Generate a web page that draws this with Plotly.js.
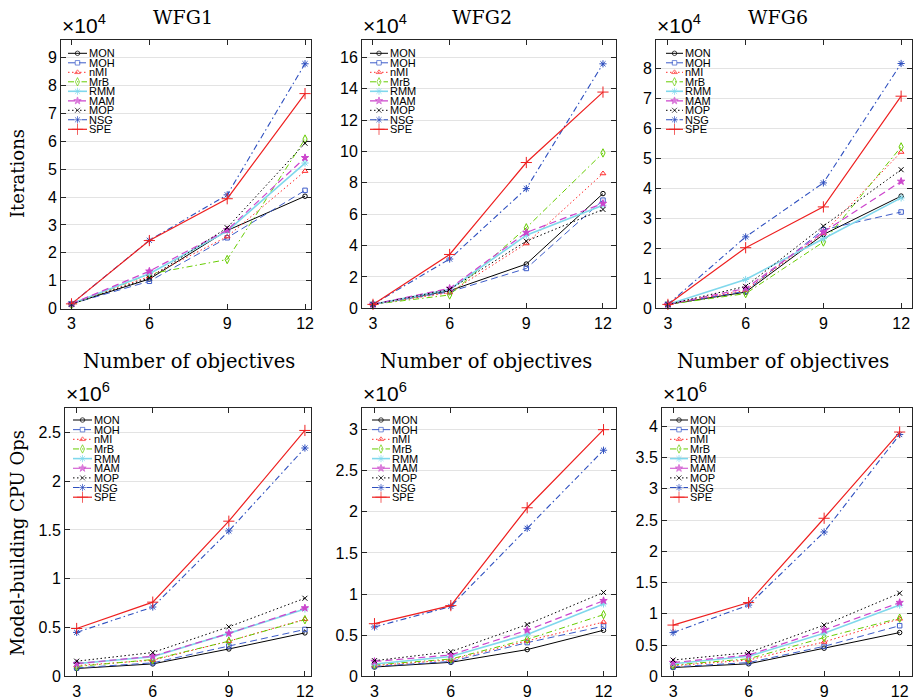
<!DOCTYPE html>
<html><head><meta charset="utf-8">
<script src="https://cdn.plot.ly/plotly-3.0.1.min.js"></script>
<style>html,body{margin:0;padding:0;background:#fff}#chart{width:914px;height:699px}</style>
</head><body><div id="chart"></div>
<script>
// ---------------- DATA ----------------
const objectives = [3, 6, 9, 12];
const methods = ['MON', 'MOH', 'nMI', 'MrB', 'RMM', 'MAM', 'MOP', 'NSG', 'SPE'];

// Iterations (x10^4), rows in the order of `methods`
const wfg1Iterations = [
  [0.17, 1.06, 2.80, 4.03],
  [0.17, 0.98, 2.54, 4.24],
  [0.17, 1.15, 2.58, 4.93],
  [0.14, 1.24, 1.76, 6.08],
  [0.17, 1.25, 2.78, 5.22],
  [0.17, 1.34, 2.82, 5.41],
  [0.16, 1.10, 2.90, 5.93],
  [0.17, 2.45, 4.08, 8.78],
  [0.17, 2.44, 3.94, 7.71]
];
const wfg2Iterations = [
  [0.25, 1.12, 2.82, 7.31],
  [0.25, 1.05, 2.54, 6.89],
  [0.25, 1.00, 4.13, 8.59],
  [0.25, 0.85, 5.13, 9.90],
  [0.25, 1.20, 4.66, 6.57],
  [0.25, 1.27, 4.83, 6.68],
  [0.25, 1.20, 4.28, 6.30],
  [0.25, 3.14, 7.63, 15.58],
  [0.25, 3.43, 9.29, 13.78]
];
const wfg6Iterations = [
  [0.13, 0.54, 2.46, 3.74],
  [0.13, 0.57, 2.62, 3.21],
  [0.13, 0.60, 2.50, 5.21],
  [0.13, 0.49, 2.21, 5.38],
  [0.13, 0.96, 2.32, 3.68],
  [0.13, 0.66, 2.54, 4.23],
  [0.13, 0.73, 2.74, 4.62],
  [0.13, 2.38, 4.18, 8.16],
  [0.13, 2.02, 3.38, 7.07]
];
// Model-building CPU Ops (x10^6)
const wfg1CpuOps = [
  [0.080, 0.127, 0.28, 0.445],
  [0.086, 0.138, 0.31, 0.48],
  [0.110, 0.165, 0.36, 0.585],
  [0.100, 0.172, 0.36, 0.58],
  [0.130, 0.200, 0.44, 0.69],
  [0.130, 0.206, 0.44, 0.70],
  [0.155, 0.244, 0.507, 0.80],
  [0.450, 0.710, 1.49, 2.34],
  [0.490, 0.760, 1.59, 2.52]
];
const wfg2CpuOps = [
  [0.113, 0.17, 0.325, 0.56],
  [0.120, 0.18, 0.41, 0.61],
  [0.130, 0.20, 0.43, 0.66],
  [0.140, 0.21, 0.45, 0.75],
  [0.150, 0.24, 0.51, 0.88],
  [0.180, 0.26, 0.56, 0.92],
  [0.190, 0.30, 0.63, 1.02],
  [0.600, 0.85, 1.80, 2.75],
  [0.640, 0.86, 2.05, 3.00]
];
const wfg6CpuOps = [
  [0.14, 0.20, 0.45, 0.70],
  [0.15, 0.22, 0.48, 0.81],
  [0.17, 0.26, 0.55, 0.92],
  [0.18, 0.28, 0.62, 0.93],
  [0.20, 0.32, 0.69, 1.14],
  [0.22, 0.34, 0.74, 1.18],
  [0.26, 0.38, 0.82, 1.33],
  [0.70, 1.14, 2.31, 3.87],
  [0.82, 1.18, 2.53, 3.91]
];
const problemTitles = ['WFG1', 'WFG2', 'WFG6'];

// ---------------- STYLE / LAYOUT ----------------
const W = 914, H = 699;
const SANS = 'Liberation Sans, Arial, sans-serif';
const SERIF = 'DejaVu Serif, serif';
const styles = {
  MON: {color: '#000000', dash: 'solid', symbol: 'circle-open', size: 4.5, width: 1},
  MOH: {color: '#3d5cc9', dash: '7px,4px', symbol: 'square-open', size: 4.5, width: 1},
  nMI: {color: '#ff2a2a', dash: '1.5px,2.5px', symbol: 'triangle-up-open', size: 5, width: 1},
  MrB: {color: '#66cc00', dash: '6px,3px,1.5px,3px', symbol: 'diamond-tall-open', size: 6, width: 1},
  RMM: {color: '#80d8ec', dash: 'solid', symbol: 'asterisk-open', size: 6, width: 1.6},
  MAM: {color: '#cc44cc', dash: '7px,4px', symbol: 'star', size: 5.5, width: 1.2},
  MOP: {color: '#000000', dash: '1.5px,2.5px', symbol: 'x-thin-open', size: 5, width: 1},
  NSG: {color: '#2e4fbf', dash: '6px,3px,1.5px,3px', symbol: 'asterisk-open', size: 6, width: 1.1},
  SPE: {color: '#ee2020', dash: 'solid', symbol: 'cross-thin-open', size: 8, width: 1.2}
};

const panels = [
  {data: wfg1Iterations, box: [61, 311, 39.5, 308.6], xr: [2.595, 12.23], yr: [0, 9.65], dtick: 1, exp: '4', leg: [68, 87, 53.3, 9.5]},
  {data: wfg2Iterations, box: [362, 616, 39.5, 308.3], xr: [2.57, 12.51], yr: [0, 17.13], dtick: 2, exp: '4', leg: [370, 388, 53.3, 9.5]},
  {data: wfg6Iterations, box: [656, 912, 39.5, 308.3], xr: [2.54, 12.42], yr: [0, 8.96], dtick: 1, exp: '4', leg: [666, 683, 53.3, 9.5]},
  {data: wfg1CpuOps, box: [65, 311, 408.3, 676.3], xr: [2.54, 12.24], yr: [0, 2.747], dtick: 0.5, exp: '6', leg: [73, 92, 420, 9.65]},
  {data: wfg2CpuOps, box: [362, 616, 408.3, 676.3], xr: [2.51, 12.49], yr: [0, 3.26], dtick: 0.5, exp: '6', leg: [372, 390, 420, 9.65]},
  {data: wfg6CpuOps, box: [662, 912, 408.3, 676.3], xr: [2.56, 12.49], yr: [0, 4.29], dtick: 0.5, exp: '6', leg: [670, 688, 420, 9.65]}
];

const traces = [];
const layout = {
  width: W, height: H, autosize: false,
  margin: {l: 0, r: 0, t: 0, b: 0, pad: 0},
  paper_bgcolor: '#ffffff', plot_bgcolor: 'rgba(0,0,0,0)',
  showlegend: false,
  font: {family: SANS, color: '#000000'},
  annotations: []
};

panels.forEach((p, k) => {
  const n = k === 0 ? '' : String(k + 1);
  const axCommon = {
    ticks: 'inside', ticklen: 5, tickwidth: 1, tickcolor: '#262626',
    mirror: 'ticks', showline: true, linecolor: '#262626', linewidth: 1,
    zeroline: false, automargin: false, fixedrange: true,
    tickfont: {family: SANS, size: 16, color: '#000000'}
  };
  layout['xaxis' + n] = Object.assign({}, axCommon, {
    domain: [p.box[0] / W, p.box[1] / W], range: p.xr, anchor: 'y' + n,
    tickmode: 'array', tickvals: objectives, ticktext: objectives.map(String), showgrid: false
  });
  layout['yaxis' + n] = Object.assign({}, axCommon, {
    domain: [1 - p.box[3] / H, 1 - p.box[2] / H], range: p.yr, anchor: 'x' + n,
    tick0: 0, dtick: p.dtick, showgrid: true, gridcolor: '#e3e3e3', gridwidth: 1
  });

  methods.forEach((m, i) => {
    const s = styles[m];
    traces.push({
      type: 'scatter', mode: 'lines+markers', name: m,
      x: objectives, y: p.data[i], xaxis: 'x' + n, yaxis: 'y' + n,
      line: {color: s.color, width: s.width, dash: s.dash},
      marker: {symbol: s.symbol, size: s.size, color: s.color, line: {color: s.color, width: 1}},
      showlegend: false, cliponaxis: false, hoverinfo: 'skip'
    });
  });

  // exponent label (x10^4 / x10^6)
  layout.annotations.push({
    xref: 'paper', yref: 'paper', x: (p.box[0] - 1) / W, y: 1 - (p.box[2] - 1) / H,
    xanchor: 'left', yanchor: 'bottom', showarrow: false,
    text: '×10<sup>' + p.exp + '</sup>', font: {family: SANS, size: 21, color: '#000000'}
  });
});

// legends drawn on a full-figure overlay axis in pixel units
layout.xaxis7 = {domain: [0, 1], range: [0, W], anchor: 'y7', visible: false, fixedrange: true};
layout.yaxis7 = {domain: [0, 1], range: [H, 0], anchor: 'x7', visible: false, fixedrange: true};
panels.forEach((p) => {
  const [x0, x1, y0, dy] = p.leg;
  methods.forEach((m, i) => {
    const s = styles[m];
    const y = y0 + i * dy;
    traces.push({
      type: 'scatter', mode: 'lines+markers', xaxis: 'x7', yaxis: 'y7',
      x: [x0, (x0 + x1) / 2, x1], y: [y, y, y],
      line: {color: s.color, width: s.width, dash: s.dash},
      marker: {symbol: s.symbol, size: [0, s.size, 0], color: s.color, line: {color: s.color, width: 1}},
      showlegend: false, cliponaxis: false, hoverinfo: 'skip'
    });
    layout.annotations.push({
      xref: 'paper', yref: 'paper', x: (x1 + 1) / W, y: 1 - y / H,
      xanchor: 'left', yanchor: 'middle', showarrow: false, text: m,
      font: {family: SANS, size: 11, color: '#000000'}, borderpad: 0
    });
  });
});

// titles
const titleX = [183, 482, 778];
problemTitles.forEach((t, k) => {
  layout.annotations.push({xref: 'paper', yref: 'paper', x: titleX[k] / W, y: 1 - 17 / H,
    xanchor: 'center', yanchor: 'middle', showarrow: false, text: t,
    font: {family: SERIF, size: 19, color: '#000000'}});
});
const xTitleX = [189, 486, 783];
xTitleX.forEach((cx) => {
  layout.annotations.push({xref: 'paper', yref: 'paper', x: cx / W, y: 1 - 361 / H,
    xanchor: 'center', yanchor: 'middle', showarrow: false, text: 'Number of objectives',
    font: {family: SERIF, size: 19.5, color: '#000000'}});
});
layout.annotations.push({xref: 'paper', yref: 'paper', x: 17 / W, y: 1 - 174 / H,
  xanchor: 'center', yanchor: 'middle', showarrow: false, textangle: -90, text: 'Iterations',
  font: {family: SERIF, size: 18, color: '#000000'}});
layout.annotations.push({xref: 'paper', yref: 'paper', x: 17 / W, y: 1 - 543 / H,
  xanchor: 'center', yanchor: 'middle', showarrow: false, textangle: -90, text: 'Model-building CPU Ops',
  font: {family: SERIF, size: 18, color: '#000000'}});

Plotly.newPlot('chart', traces, layout, {staticPlot: true, displayModeBar: false});
</script>
</body></html>
